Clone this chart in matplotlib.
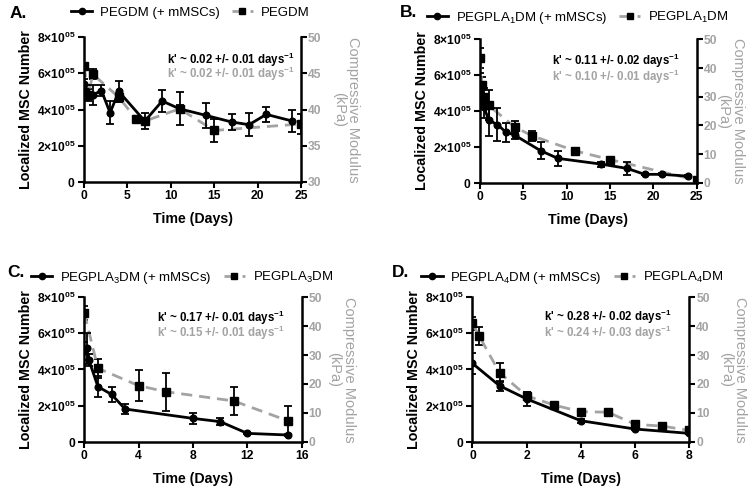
import matplotlib
matplotlib.use("Agg")
import matplotlib.pyplot as plt
from matplotlib.ticker import FixedLocator, FuncFormatter
from matplotlib.lines import Line2D

plt.rcParams['font.family'] = ['Liberation Sans', 'DejaVu Sans']
plt.rcParams['mathtext.fontset'] = 'custom'
plt.rcParams['mathtext.rm'] = 'Liberation Sans'
plt.rcParams['mathtext.bf'] = 'Liberation Sans:bold'
plt.rcParams['mathtext.it'] = 'Liberation Sans:italic'

GRAY = '#a3a3a3'

# ---------------- data (cell numbers in units of 1e5) ----------------
A_cell_t = [0, 0.25, 1, 2, 3, 4, 7, 9, 11, 14, 17, 19, 21, 24]
A_cell = [5.4, 5.0, 4.8, 5.05, 3.82, 5.0, 3.36, 4.47, 4.04, 3.68, 3.31, 3.16, 3.73, 3.36]
A_cell_err = [0.3, 0.35, 0.55, 0.3, 0.64, 0.6, 0.43, 0.6, 0.92, 0.69, 0.44, 0.62, 0.41, 0.63]
A_mod_t = [0, 0.5, 1, 4, 6, 7, 11, 15, 25]
A_mod = [46.0, 42.0, 44.9, 41.7, 38.7, 38.4, 40.1, 37.1, 38.0]
A_mod_err = [0.5, 0.8, 0.7, 0.6, 0.3, 0.4, 0.5, 1.6, 1.4]

B_cell_t = [0, 0.25, 0.5, 1, 2, 3, 4, 7, 9, 14, 17, 19, 21, 24]
B_cell = [5.15, 4.75, 4.2, 3.5, 3.25, 2.83, 2.66, 1.79, 1.36, 1.04, 0.8, 0.47, 0.47, 0.37]
B_cell_err = [1.0, 0.5, 0.6, 0.9, 0.91, 0.53, 0.2, 0.48, 0.42, 0.14, 0.34, 0.05, 0.05, 0.05]
B_mod_t = [0, 0.25, 0.5, 1, 4, 6, 11, 15, 25]
B_mod = [43.4, 34.0, 30.0, 27.0, 19.5, 16.4, 11.1, 8.1, 0.9]
B_mod_err = [3.5, 3.0, 3.0, 5.2, 2.0, 1.7, 0.8, 0.6, 0.5]

C_cell_t = [0, 0.17, 0.33, 1, 2, 3, 8, 10, 12, 15]
C_cell = [5.03, 5.18, 4.53, 3.05, 2.62, 1.81, 1.29, 1.11, 0.46, 0.37]
C_cell_err = [0.5, 0.85, 0.35, 0.58, 0.43, 0.27, 0.3, 0.2, 0.05, 0.05]
C_mod_t = [0, 1, 4, 6, 11, 15]
C_mod = [44.5, 25.4, 19.4, 17.3, 14.1, 7.2]
C_mod_err = [2.5, 3.2, 5.3, 6.6, 4.9, 5.0]

D_cell_t = [0, 1, 2, 4, 6, 8]
D_cell = [4.34, 3.1, 2.37, 1.16, 0.7, 0.46]
D_cell_err = [0.6, 0.28, 0.37, 0.1, 0.08, 0.05]
D_mod_t = [0, 0.25, 1, 2, 3, 4, 5, 6, 7, 8]
D_mod = [41.0, 36.6, 23.9, 15.9, 12.7, 10.4, 10.2, 6.0, 5.4, 3.9]
D_mod_err = [2.3, 3.2, 3.2, 1.2, 0.4, 0.4, 0.4, 0.5, 0.4, 0.4]

letters = ['A.', 'B.', 'C.', 'D.']
names = ['PEGDM', 'PEGPLA$_1$DM', 'PEGPLA$_3$DM', 'PEGPLA$_4$DM']
k_cell = ["0.02 +/- 0.01", "0.11 +/- 0.02", "0.17 +/- 0.01", "0.28 +/- 0.02"]
k_mod = ["0.02 +/- 0.01", "0.10 +/- 0.01", "0.15 +/- 0.01", "0.24 +/- 0.03"]
x_ticks = [[0, 5, 10, 15, 20, 25], [0, 5, 10, 15, 20, 25], [0, 4, 8, 12, 16], [0, 2, 4, 6, 8]]
y2_ticks = [[30, 35, 40, 45, 50], [0, 10, 20, 30, 40, 50], [0, 10, 20, 30, 40, 50], [0, 10, 20, 30, 40, 50]]
y_ticks = [0, 2, 4, 6, 8]

cells = [(A_cell_t, A_cell, A_cell_err), (B_cell_t, B_cell, B_cell_err),
         (C_cell_t, C_cell, C_cell_err), (D_cell_t, D_cell, D_cell_err)]
mods = [(A_mod_t, A_mod, A_mod_err), (B_mod_t, B_mod, B_mod_err),
        (C_mod_t, C_mod, C_mod_err), (D_mod_t, D_mod, D_mod_err)]

# layout (figure fractions)
rects = [[0.1119, 0.629, 0.289, 0.295], [0.639, 0.627, 0.2885, 0.2927],
         [0.1123, 0.0986, 0.2895, 0.2947], [0.629, 0.0986, 0.289, 0.2947]]
letter_pos = [(0.013, 0.972), (0.532, 0.975), (0.009, 0.443), (0.522, 0.443)]
legend_anchor = [(0.49, 1.17), (0.45, 1.15), (0.45, 1.135), (0.46, 1.135)]
ktext_pos = [(0.97, 0.845, 0.745), (0.92, 0.85, 0.74), (0.92, 0.86, 0.75), (0.92, 0.865, 0.75)]
r_labelpad = [28, 20, 24, 27]

DASH = (0, (4, 2.5))


def ylab(v, pos):
    if v == 0:
        return r'$\mathbf{0}$'
    return r'$\mathbf{%d{\times}10^{05}}$' % int(v)


fig = plt.figure(figsize=(7.51, 4.90), dpi=100)
for i in range(4):
    ax = fig.add_axes(rects[i])
    ax2 = ax.twinx()
    ax.set_zorder(ax2.get_zorder() + 1)
    ax.patch.set_visible(False)

    t, y, e = cells[i]
    tm, m, me = mods[i]
    ax2.errorbar(tm, m, yerr=me, color=GRAY, ls=DASH, lw=2.0,
                 marker='s', ms=5.5, mfc='black', mec='black',
                 ecolor='black', elinewidth=1.3, capsize=3.2, capthick=1.3)
    ax.errorbar(t, y, yerr=e, color='black', lw=2.0, marker='o', ms=4.8,
                ecolor='black', elinewidth=1.3, capsize=3.2, capthick=1.3)

    xt = x_ticks[i]
    ax.set_xlim(xt[0], xt[-1])
    ax.set_ylim(0, 8)
    y2 = y2_ticks[i]
    ax2.set_ylim(y2[0], y2[-1])

    ax.xaxis.set_major_locator(FixedLocator(xt))
    ax.yaxis.set_major_locator(FixedLocator(y_ticks))
    ax.yaxis.set_major_formatter(FuncFormatter(ylab))
    ax2.yaxis.set_major_locator(FixedLocator(y2))

    for a in (ax, ax2):
        for s in a.spines.values():
            s.set_linewidth(1.8)
        a.spines['top'].set_visible(False)
    ax.spines['right'].set_visible(False)
    ax2.spines['left'].set_visible(False)
    ax2.spines['bottom'].set_visible(False)

    ax.tick_params(axis='both', width=1.5, length=4, labelsize=8.7, pad=2)
    ax2.tick_params(axis='y', width=1.5, length=4, labelsize=8.7, pad=1,
                    colors='black', labelcolor=GRAY)
    for lbl in ax.get_xticklabels() + ax2.get_yticklabels():
        lbl.set_fontweight('bold')
    for lbl in ax2.get_yticklabels():
        lbl.set_color(GRAY)

    ax.set_xlabel('Time (Days)', fontsize=10.2, fontweight='bold', labelpad=7)
    ax.set_ylabel('Localized MSC Number', fontsize=10.3, fontweight='bold', labelpad=3)
    ax2.set_ylabel('Compressive Modulus\n(kPa)', fontsize=10.5, color=GRAY,
                   rotation=270, labelpad=r_labelpad[i], linespacing=1.05)

    kx, ky1, ky2 = ktext_pos[i]
    ax.text(kx, ky1, "k' ~ " + k_cell[i] + r" days$^{\mathbf{-1}}$", transform=ax.transAxes,
            ha='right', va='center', fontsize=8.3, fontweight='bold', color='black')
    ax.text(kx, ky2, "k' ~ " + k_mod[i] + r" days$^{\mathbf{-1}}$", transform=ax.transAxes,
            ha='right', va='center', fontsize=8.3, fontweight='bold', color=GRAY)

    h1 = Line2D([], [], color='black', lw=2.0, marker='o', ms=4.5)
    h2 = Line2D([], [], color=GRAY, lw=2.0, ls=DASH, marker='s', ms=5, mfc='black', mec='black')
    ax.legend([h1, h2], [names[i] + ' (+ mMSCs)', names[i]], loc='center',
              bbox_to_anchor=legend_anchor[i], ncol=2, frameon=False, fontsize=9.5,
              handlelength=1.6, columnspacing=0.9, handletextpad=0.6, borderaxespad=0)

    fig.text(letter_pos[i][0], letter_pos[i][1], letters[i], fontsize=12.5,
             fontweight='bold', ha='left', va='center')

fig.savefig('out.png', dpi=100)
